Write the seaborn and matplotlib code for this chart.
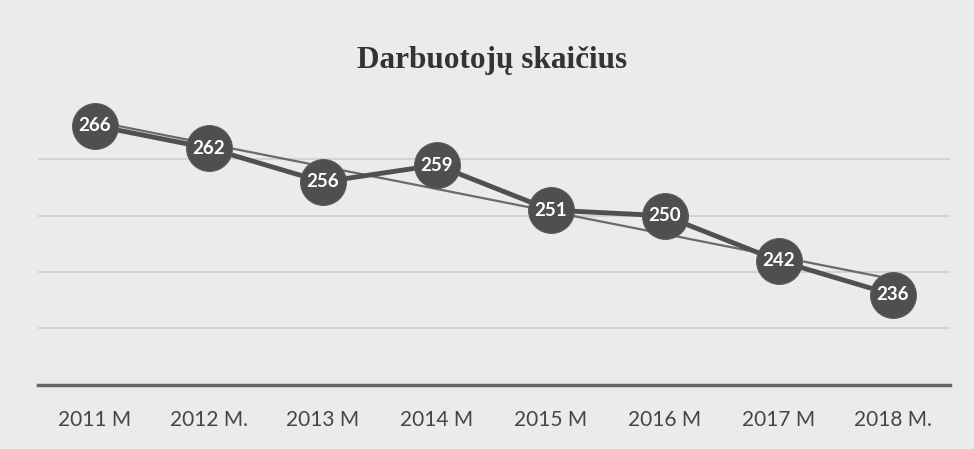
import matplotlib.pyplot as plt
import numpy as np
import pandas as pd
import seaborn as sns

# data
years = ['2011 M', '2012 M.', '2013 M', '2014 M', '2015 M', '2016 M', '2017 M', '2018 M.']
employees = [266, 262, 256, 259, 251, 250, 242, 236]

df = pd.DataFrame({'pos': range(len(years)), 'year': years, 'employees': employees})

sns.set_style('white')
plt.rcParams['font.family'] = ['Lato', 'DejaVu Sans']

fig = plt.figure(figsize=(9.74, 4.49), dpi=100, facecolor='#ebebeb')
ax = fig.add_axes([0.039, 0.143, 0.936, 0.64])
ax.set_facecolor('#ebebeb')

# linear trend line
sns.regplot(data=df, x='pos', y='employees', scatter=False, ci=None, ax=ax,
            line_kws={'color': '#6a6a6a', 'lw': 1.6, 'zorder': 2})

sns.lineplot(data=df, x='pos', y='employees', ax=ax, color='#505050', lw=3.5,
             marker='o', markersize=33, markerfacecolor='#4f4f4f',
             markeredgecolor='#5a5a5a', zorder=3)

for x, y in zip(df['pos'], df['employees']):
    ax.text(x, y, str(y), ha='center', va='center', color='white',
            fontsize=13.5, fontweight='bold', zorder=4)

ax.set_xlim(-0.5, len(years) - 0.5)
ax.set_ylim(220, 271)
ax.set_yticks([230, 240, 250, 260])
ax.set_yticklabels([])
ax.tick_params(axis='y', length=0)
ax.grid(axis='y', color='#cfcfcf', lw=1.2)
ax.set_xticks(df['pos'])
ax.set_xticklabels(years, fontsize=15, color='#454545')
ax.tick_params(axis='x', length=0, pad=18)
ax.set_xlabel('')
ax.set_ylabel('')

for s in ['top', 'right', 'left']:
    ax.spines[s].set_visible(False)
ax.spines['bottom'].set_color('#666666')
ax.spines['bottom'].set_linewidth(2.5)

fig.text(0.505, 0.865, 'Darbuotojų skaičius', ha='center', va='center',
         fontsize=22.5, fontweight='bold', family=['Liberation Serif', 'DejaVu Serif'],
         color='#333333')

fig.savefig('out.png', dpi=100, facecolor=fig.get_facecolor())
